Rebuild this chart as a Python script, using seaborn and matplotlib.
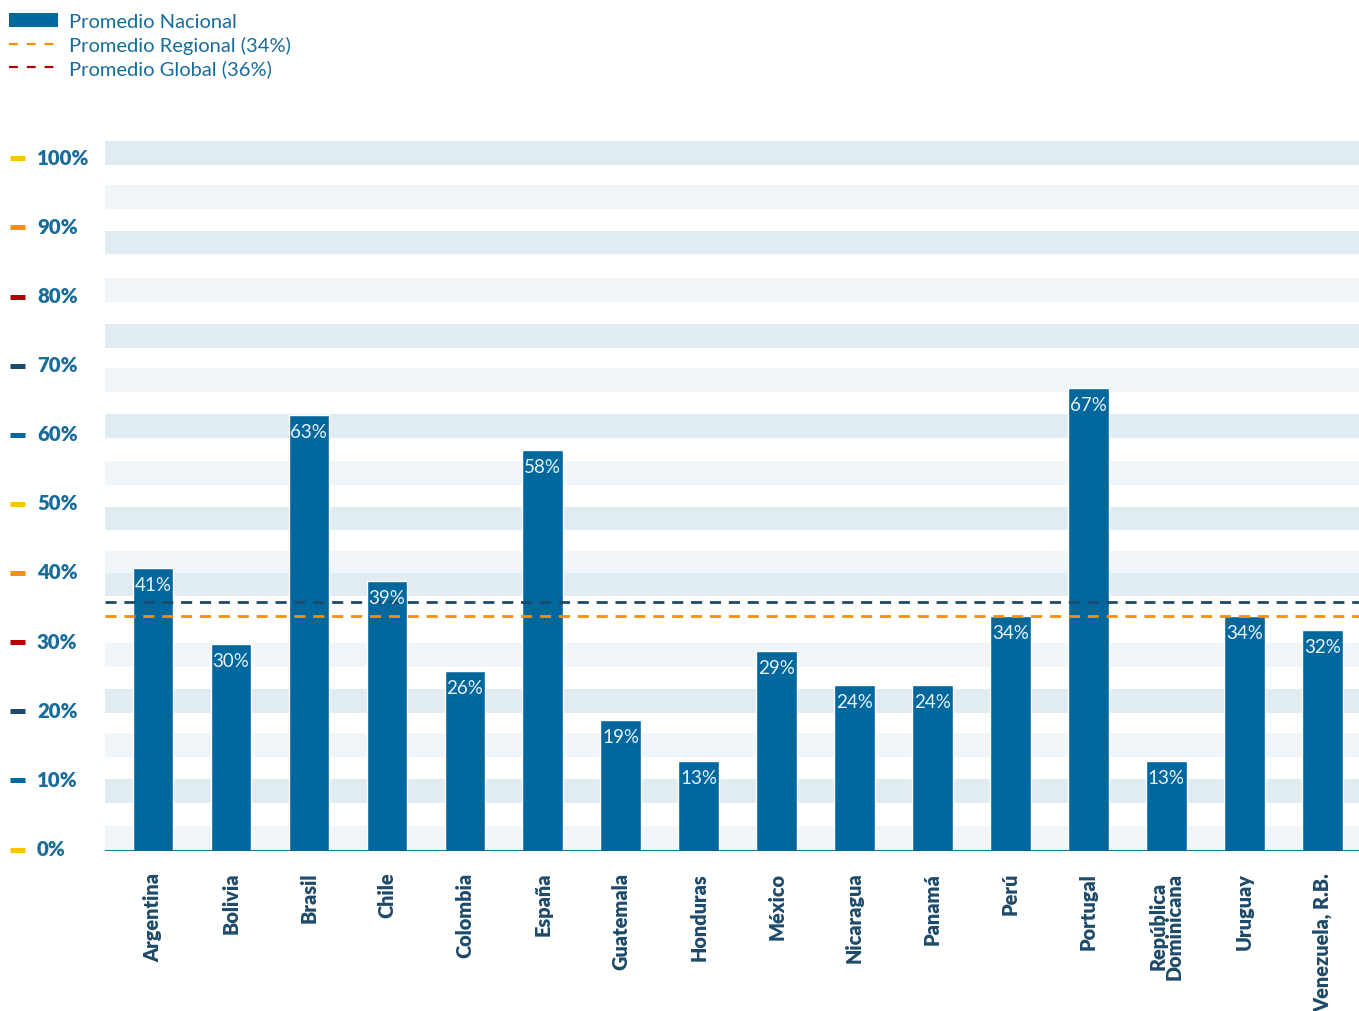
import matplotlib
matplotlib.use("Agg")
import matplotlib.pyplot as plt
import matplotlib.transforms as mtransforms
from matplotlib.lines import Line2D
from matplotlib.patches import Patch
import pandas as pd
import seaborn as sns

# Data
paises = ["Argentina", "Bolivia", "Brasil", "Chile", "Colombia", "España",
          "Guatemala", "Honduras", "México", "Nicaragua", "Panamá", "Perú",
          "Portugal", "República\nDominicana", "Uruguay", "Venezuela, R.B."]
promedio_nacional = [41, 30, 63, 39, 26, 58, 19, 13, 29, 24, 24, 34, 67, 13, 34, 32]
promedio_regional = 34
promedio_global = 36
y_ticks = [0, 10, 20, 30, 40, 50, 60, 70, 80, 90, 100]

# Colours
BAR = "#00689d"
TEXT_BLUE = "#176c9c"
NAVY = "#1e4a6a"
ORANGE = "#f39200"
RED = "#b30000"
YELLOW = "#f7c600"
STRIPE_DARK = "#e0ecf2"
STRIPE_LIGHT = "#f0f5f9"
tick_mark_colors = [YELLOW, "#00689d", NAVY, RED, ORANGE] * 3

sns.set_theme(style="white")
plt.rcParams["font.family"] = ["Lato", "DejaVu Sans"]

df = pd.DataFrame({"pais": paises, "valor": promedio_nacional})

fig = plt.figure(figsize=(13.59, 10.12), dpi=100)
ax = fig.add_axes([105 / 1359, 160 / 1012, 1 - 105 / 1359, 710 / 1012])

# Background stripes (alternating light / dark bands)
stripes_light = [(0.14, 3.62), (13.6, 17.1), (26.6, 30.1), (40.2, 43.4),
                 (53.0, 56.4), (66.4, 69.9), (79.4, 82.9), (92.9, 96.4)]
stripes_dark = [(6.9, 10.4), (20.0, 23.4), (36.9, 40.2), (46.5, 49.8),
                (59.8, 63.2), (72.8, 76.3), (86.3, 89.7), (99.3, 102.7)]
for lo, hi in stripes_light:
    ax.axhspan(lo, hi, color=STRIPE_LIGHT, lw=0, zorder=0)
for lo, hi in stripes_dark:
    ax.axhspan(lo, hi, color=STRIPE_DARK, lw=0, zorder=0)

sns.barplot(data=df, x="pais", y="valor", color=BAR, width=0.52,
            saturation=1, ax=ax, zorder=2)
for p in ax.patches:
    p.set_zorder(2)

# Average reference lines
ax.axhline(promedio_global, color=NAVY, lw=2.0, dashes=(4, 2.8), zorder=3)
ax.axhline(promedio_regional, color=ORANGE, lw=2.0, dashes=(4, 2.8), zorder=3)
ax.axhline(0, color=BAR, lw=1.3, zorder=4)

# Value labels inside the bars
for i, v in enumerate(promedio_nacional):
    ax.annotate(f"{v}%", (i, v), xytext=(0, -8), textcoords="offset pixels",
                ha="center", va="top", color="#eaf2f8", fontsize=13.5, zorder=5)

ax.set_xlim(-0.615, 15.47)
ax.set_ylim(0, 102.7)
ax.set_xlabel("")
ax.set_ylabel("")
for s in ax.spines.values():
    s.set_visible(False)

# X tick labels
ax.tick_params(axis="x", length=0, pad=15)
ax.set_xticks(range(len(paises)))
ax.set_xticklabels(paises, rotation=90, fontsize=14.3, fontweight="heavy",
                   color=NAVY, va="top", ha="center", linespacing=0.8)

# Y tick labels with coloured marks
ax.set_yticks(y_ticks)
ax.set_yticklabels([f"{t}%" for t in y_ticks], fontsize=14.7,
                   fontweight="heavy", color=TEXT_BLUE, ha="left")
ax.tick_params(axis="y", length=0, pad=49)
shift = mtransforms.ScaledTranslation(0, 4 / 100, fig.dpi_scale_trans)
for lbl in ax.get_yticklabels():
    lbl.set_transform(lbl.get_transform() + shift)

blend = mtransforms.blended_transform_factory(fig.transFigure, ax.transData)
for t, c in zip(y_ticks, tick_mark_colors):
    ax.plot([10 / 1359, 25 / 1359], [t + 0.2, t + 0.2], transform=blend,
            color=c, lw=3.6, solid_capstyle="butt", clip_on=False)

# Legend
handles = [
    Patch(facecolor=BAR, edgecolor="none", label="Promedio Nacional"),
    Line2D([0], [0], color=ORANGE, lw=1.6, dashes=(4, 4),
           label=f"Promedio Regional ({promedio_regional}%)"),
    Line2D([0], [0], color=RED, lw=1.6, dashes=(4, 4),
           label=f"Promedio Global ({promedio_global}%)"),
]
leg = fig.legend(handles=handles, loc="upper left",
                 bbox_to_anchor=(9 / 1359, 1 - 14 / 1012),
                 bbox_transform=fig.transFigure, frameon=False,
                 fontsize=14.5, handlelength=2.45, handleheight=0.7,
                 handletextpad=0.55, labelspacing=0.28, borderpad=0,
                 borderaxespad=0)
for txt in leg.get_texts():
    txt.set_color(TEXT_BLUE)

fig.savefig("out.png", dpi=100)
